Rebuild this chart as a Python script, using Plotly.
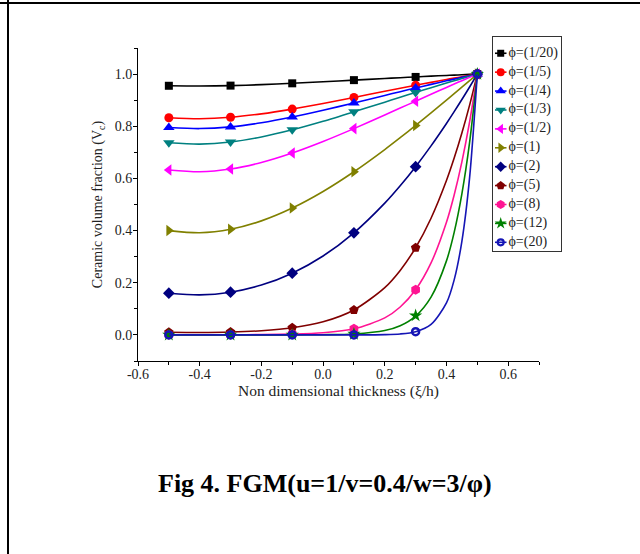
import plotly.graph_objects as go

# ---------------- data ----------------
series_names = ["ϕ=(1/20)", "ϕ=(1/5)", "ϕ=(1/4)", "ϕ=(1/3)", "ϕ=(1/2)", "ϕ=(1)",
                "ϕ=(2)", "ϕ=(5)", "ϕ=(8)", "ϕ=(12)", "ϕ=(20)"]

marker_x = [-0.5, -0.3, -0.1, 0.1, 0.3, 0.5]
curve_x = [-0.5, -0.4, -0.3, -0.2, -0.1, 0.0, 0.1, 0.2, 0.25, 0.3, 0.35, 0.4,
           0.425, 0.45, 0.475, 0.5]

m_1_20 = [0.9552, 0.9558, 0.9646, 0.9768, 0.9891, 1.0]
m_1_5 = [0.8326, 0.8345, 0.8658, 0.9105, 0.9571, 1.0]
m_1_4 = [0.7953, 0.7976, 0.8351, 0.8894, 0.9467, 1.0]
m_1_3 = [0.7368, 0.7397, 0.7864, 0.8553, 0.9296, 1.0]
m_1_2 = [0.6325, 0.6362, 0.6974, 0.7909, 0.8962, 1.0]
m_1 = [0.4, 0.4048, 0.4864, 0.6256, 0.8032, 1.0]
m_2 = [0.16, 0.1639, 0.2366, 0.3914, 0.6451, 1.0]
m_5 = [0.0102, 0.0109, 0.0272, 0.0958, 0.3343, 1.0]
m_8 = [0.0007, 0.0007, 0.0031, 0.0235, 0.1732, 1.0]
m_12 = [0.0, 0.0, 0.0002, 0.0036, 0.074, 1.0]
m_20 = [0.0, 0.0, 0.0, 0.0001, 0.0125, 1.0]

c_1_20 = [0.9552, 0.9542, 0.9558, 0.9595, 0.9646, 0.9705, 0.9768, 0.9831, 0.9861, 0.9891, 0.9920, 0.9948, 0.9961, 0.9974, 0.9987, 1.0]
c_1_5 = [0.8326, 0.8290, 0.8345, 0.8475, 0.8658, 0.8873, 0.9105, 0.9340, 0.9457, 0.9571, 0.9683, 0.9792, 0.9846, 0.9898, 0.9950, 1.0]
c_1_4 = [0.7953, 0.7911, 0.7976, 0.8131, 0.8351, 0.8612, 0.8894, 0.9182, 0.9325, 0.9467, 0.9606, 0.9741, 0.9807, 0.9873, 0.9937, 1.0]
c_1_3 = [0.7368, 0.7316, 0.7397, 0.7590, 0.7864, 0.8193, 0.8553, 0.8924, 0.9111, 0.9296, 0.9478, 0.9656, 0.9744, 0.9831, 0.9916, 1.0]
c_1_2 = [0.6325, 0.6258, 0.6362, 0.6612, 0.6974, 0.7416, 0.7909, 0.8431, 0.8696, 0.8962, 0.9227, 0.9489, 0.9619, 0.9747, 0.9874, 1.0]
c_1 = [0.4, 0.3916, 0.4048, 0.4372, 0.4864, 0.55, 0.6256, 0.7108, 0.7563, 0.8032, 0.8514, 0.9004, 0.9252, 0.9501, 0.9750, 1.0]
c_2 = [0.16, 0.1534, 0.1639, 0.1911, 0.2366, 0.3025, 0.3914, 0.5052, 0.5719, 0.6451, 0.7248, 0.8107, 0.8559, 0.9026, 0.9506, 1.0]
c_5 = [0.0102, 0.0092, 0.0109, 0.0160, 0.0272, 0.0503, 0.0958, 0.1814, 0.2474, 0.3343, 0.4472, 0.5918, 0.6778, 0.7740, 0.8811, 1.0]
c_8 = [0.0007, 0.0006, 0.0007, 0.0013, 0.0031, 0.0084, 0.0235, 0.0652, 0.1070, 0.1732, 0.2760, 0.4320, 0.5367, 0.6637, 0.8167, 1.0]
c_12 = [0.0, 0.0, 0.0, 0.0, 0.0002, 0.0008, 0.0036, 0.0166, 0.0350, 0.0721, 0.1450, 0.2839, 0.3932, 0.5407, 0.7381, 1.0]
c_20 = [0.0, 0.0, 0.0, 0.0, 0.0, 0.0, 0.0001, 0.0011, 0.0037, 0.0125, 0.0400, 0.1227, 0.2111, 0.3589, 0.6028, 1.0]

marker_values = [m_1_20, m_1_5, m_1_4, m_1_3, m_1_2, m_1, m_2, m_5, m_8, m_12, m_20]
curve_values = [c_1_20, c_1_5, c_1_4, c_1_3, c_1_2, c_1, c_2, c_5, c_8, c_12, c_20]

x_tick_vals = [-0.6, -0.4, -0.2, 0.0, 0.2, 0.4, 0.6]
x_tick_labels = ["-0.6", "-0.4", "-0.2", "0.0", "0.2", "0.4", "0.6"]
y_tick_vals = [0.0, 0.2, 0.4, 0.6, 0.8, 1.0]
y_tick_labels = ["0.0", "0.2", "0.4", "0.6", "0.8", "1.0"]

# ---------------- styles ----------------
colors = ["#000000", "#FF0000", "#0000FF", "#008080", "#FF00FF", "#808000",
          "#000080", "#800000", "#FF1493", "#008000", "#1515B5"]
symbols = ["square", "circle", "triangle-up", "triangle-down", "triangle-left",
           "triangle-right", "diamond", "pentagon", "hexagon", "star", "circle-open"]
sizes = [8, 9, 10, 10, 10, 10, 9, 10, 10, 10, 7]

FONT = "Liberation Serif, Times New Roman, serif"
TXT = "#222222"
W, H = 640, 554

fig = go.Figure()

for i in range(len(series_names)):
    col = colors[i]
    fig.add_trace(go.Scatter(
        x=curve_x, y=curve_values[i], mode="lines",
        line=dict(color=col, width=1.6, shape="spline", smoothing=0.8),
        showlegend=False, hoverinfo="skip"))
    mk = dict(symbol=symbols[i], size=sizes[i], color=col)
    if symbols[i] == "circle-open":
        mk["line"] = dict(color=col, width=2.5)
    fig.add_trace(go.Scatter(
        x=marker_x, y=marker_values[i], mode="markers", marker=mk,
        showlegend=False, name=series_names[i]))

# ---------------- custom legend on an auxiliary axis ----------------
for i in range(len(series_names)):
    col = colors[i]
    fig.add_trace(go.Scatter(
        x=[2, 13.5], y=[i, i], xaxis="x2", yaxis="y2", mode="lines",
        line=dict(color=col, width=1.6), showlegend=False, hoverinfo="skip"))
    mk = dict(symbol=symbols[i], size=sizes[i] - 1, color=col)
    if symbols[i] == "circle-open":
        mk["line"] = dict(color=col, width=2.2)
    fig.add_trace(go.Scatter(
        x=[7.7], y=[i], xaxis="x2", yaxis="y2", mode="markers", marker=mk,
        showlegend=False, hoverinfo="skip"))
fig.add_trace(go.Scatter(
    x=[15.5] * len(series_names), y=list(range(len(series_names))),
    xaxis="x2", yaxis="y2", mode="text", text=series_names,
    textposition="middle right",
    textfont=dict(family=FONT, size=14, color=TXT),
    showlegend=False, hoverinfo="skip"))

axis_common = dict(showline=True, linecolor="#000000", linewidth=1,
                   ticks="outside", ticklen=4, tickwidth=1, tickcolor="#000000",
                   showgrid=False, zeroline=False, automargin=False,
                   tickfont=dict(family=FONT, size=14, color=TXT))

fig.update_layout(
    width=W, height=H,
    margin=dict(l=0, r=0, t=0, b=0),
    paper_bgcolor="white", plot_bgcolor="rgba(0,0,0,0)",
    font=dict(family=FONT, size=14, color=TXT),
    xaxis=dict(domain=[138 / W, 539 / W], range=[-0.6, 0.7],
               tickmode="array", tickvals=x_tick_vals, ticktext=x_tick_labels,
               ticklabelstandoff=-4,
               minor=dict(ticks="outside", ticklen=3, tickmode="linear",
                          tick0=0, dtick=0.1, tickcolor="#000000"),
               title=dict(text="Non dimensional thickness (ξ/h)",
                          font=dict(family=FONT, size=15.5, color=TXT),
                          standoff=0),
               anchor="y", **axis_common),
    yaxis=dict(domain=[(H - 361) / H, (H - 48) / H], range=[-0.1, 1.1],
               tickmode="array", tickvals=y_tick_vals, ticktext=y_tick_labels,
               ticklabelstandoff=-2,
               minor=dict(ticks="outside", ticklen=3, tickmode="linear",
                          tick0=0, dtick=0.1, tickcolor="#000000"),
               title=dict(text="Ceramic volume fraction (V<sub>c</sub>)",
                          font=dict(family=FONT, size=14, color=TXT),
                          standoff=8),
               anchor="x", **axis_common),
    xaxis2=dict(domain=[493 / W, 561 / W], range=[0, 68], anchor="y2",
                showline=True, mirror=True, linecolor="#333333", linewidth=1,
                showticklabels=False, ticks="", showgrid=False, zeroline=False,
                fixedrange=True),
    yaxis2=dict(domain=[(H - 251) / H, (H - 37) / H], range=[10.46, -0.86],
                anchor="x2", showline=True, mirror=True, linecolor="#333333",
                linewidth=1, showticklabels=False, ticks="", showgrid=False,
                zeroline=False, fixedrange=True),
    showlegend=False,
    annotations=[dict(text="<b>Fig 4. FGM(u=1/v=0.4/w=3/φ)</b>",
                      xref="paper", yref="paper", x=325 / W, y=(H - 483) / H,
                      xanchor="center", yanchor="middle", showarrow=False,
                      font=dict(family=FONT, size=26, color="#000000"))],
    shapes=[dict(type="line", xref="paper", yref="paper",
                 x0=0, x1=1, y0=1 - 3 / H, y1=1 - 3 / H,
                 line=dict(color="#000000", width=2.2)),
            dict(type="line", xref="paper", yref="paper",
                 x0=8 / W, x1=8 / W, y0=0, y1=1,
                 line=dict(color="#000000", width=2))],
)

fig.write_html("out.html")
